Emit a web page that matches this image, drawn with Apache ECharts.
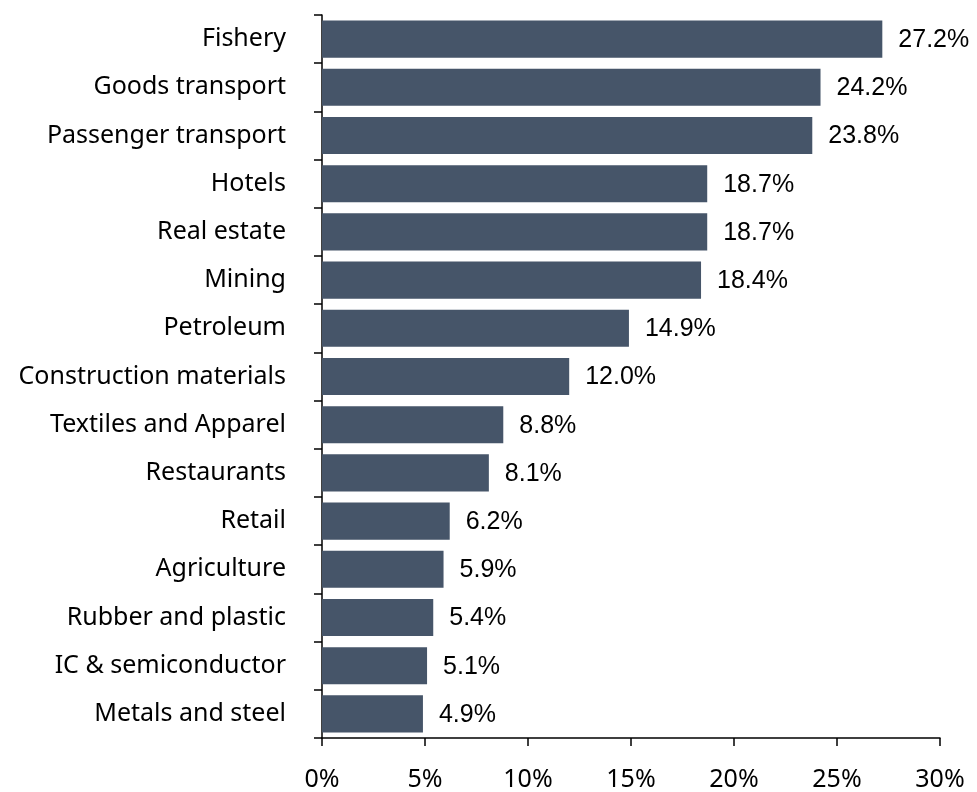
<!DOCTYPE html>
<html><head><meta charset="utf-8">
<script src="https://cdn.jsdelivr.net/npm/echarts@6/dist/echarts.min.js"></script>
<style>html,body{margin:0;padding:0;background:#fff}#c{width:977px;height:792px}</style>
</head><body><div id="c"></div>
<script>
const categories = ["Fishery","Goods transport","Passenger transport","Hotels","Real estate","Mining","Petroleum","Construction materials","Textiles and Apparel","Restaurants","Retail","Agriculture","Rubber and plastic","IC & semiconductor","Metals and steel"];
const values = [27.2,24.2,23.8,18.7,18.7,18.4,14.9,12.0,8.8,8.1,6.2,5.9,5.4,5.1,4.9];
const xTicks = [0,5,10,15,20,25,30];
const font = "'Noto Sans', sans-serif";
const chart = echarts.init(document.getElementById('c'));
chart.setOption({
  animation:false,
  grid:{left:322,right:37,top:15,bottom:54,containLabel:false},
  xAxis:{type:'value',min:xTicks[0],max:xTicks[xTicks.length-1],interval:5,
    axisLine:{show:true,lineStyle:{color:'#000',width:1.5}},
    axisTick:{show:true,length:8,lineStyle:{color:'#000',width:1.5}},
    splitLine:{show:false},
    axisLabel:{formatter:v=>v+'%',color:'#000',fontSize:25,fontFamily:font,margin:29}},
  yAxis:{type:'category',data:categories,inverse:true,
    axisLine:{show:true,lineStyle:{color:'#000',width:1.5}},
    axisTick:{show:true,length:8,lineStyle:{color:'#000',width:1.5}},
    axisLabel:{color:'#000',fontSize:25,fontFamily:font,margin:36,padding:[0,0,6,0]}},
  series:[{type:'bar',data:values,barCategoryGap:'23%',
    itemStyle:{color:'#465569'},
    label:{show:true,position:'right',distance:16,offset:[0,1],formatter:p=>p.value.toFixed(1)+'%',color:'#000',fontSize:25,fontFamily:"'Liberation Sans', Arial, sans-serif"}}]
});
</script></body></html>
